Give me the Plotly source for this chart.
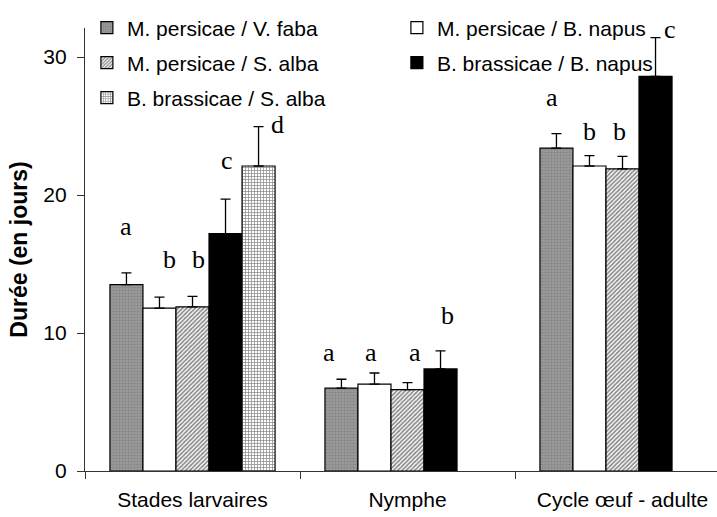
import plotly.graph_objects as go

# Development stages (x categories)
categories = ["Stades larvaires", "Nymphe", "Cycle œuf - adulte"]

# Aphid / host-plant combinations
series_names = [
    "M. persicae / V. faba",
    "M. persicae / B. napus",
    "M. persicae / S. alba",
    "B. brassicae / B. napus",
    "B. brassicae / S. alba",
]

# Mean duration (days) per stage for each combination (None = not measured)
means = [
    [13.5, 6.0, 23.4],
    [11.8, 6.3, 22.1],
    [11.9, 5.9, 21.9],
    [17.2, 7.4, 28.6],
    [22.1, None, None],
]

# Upper error (standard deviation, days)
errors = [
    [0.85, 0.65, 1.05],
    [0.8, 0.8, 0.75],
    [0.75, 0.5, 0.9],
    [2.5, 1.3, 2.8],
    [2.85, None, None],
]

# Statistical group letters: (category index, series index, letter, height)
letters = [
    (0, 0, "a", 17.7), (0, 1, "b", 15.3), (0, 2, "b", 15.3),
    (0, 3, "c", 22.5), (0, 4, "d", 25.1),
    (1, 0, "a", 8.6), (1, 1, "a", 8.6), (1, 2, "a", 8.6), (1, 3, "b", 11.3),
    (2, 0, "a", 27.1), (2, 1, "b", 24.6), (2, 2, "b", 24.6), (2, 3, "c", 32.0),
]
letter_shift = [
    [0, 10, 6, 1, 19],
    [-12, -3, 7, 7, 0],
    [-4, 0, -3, 14, 0],
]

# Bar fill styles
styles = [
    dict(color="#a0a0a0", pattern=dict(shape=".", fgcolor="#6e6e6e", size=3, solidity=0.5)),
    dict(color="white"),
    dict(color="white", pattern=dict(shape="/", fgcolor="#111111", size=3, solidity=0.55)),
    dict(color="black"),
    dict(color="white", pattern=dict(shape="+", fgcolor="#222222", size=3, solidity=0.45)),
]
legend_ids = ["legend", "legend", "legend2", "legend2", "legend3"]

FONT = "Liberation Sans"
x_pos = list(range(len(categories)))
fig = go.Figure()
for i, name in enumerate(series_names):
    fig.add_trace(go.Bar(
        name=name,
        x=x_pos,
        y=means[i],
        error_y=dict(type="data", array=errors[i], symmetric=False,
                     arrayminus=[0] * 3, color="black", thickness=1.3, width=5),
        marker=dict(line=dict(color="black", width=1.2), **styles[i]),
        legend=legend_ids[i],
    ))

bargap = 0.232
slot = (1 - bargap) / len(series_names)
for cat, ser, txt, h in letters:
    fig.add_annotation(
        x=cat + (ser - 2) * slot, y=h, text=txt, showarrow=False,
        xshift=letter_shift[cat][ser],
        font=dict(family="Liberation Serif", size=26, color="black"),
    )

legend_common = dict(
    orientation="h", x=0.003, xanchor="left", yanchor="middle",
    entrywidth=265, entrywidthmode="pixels",
    font=dict(family=FONT, size=21, color="black"),
    bgcolor="rgba(0,0,0,0)", itemclick=False, tracegroupgap=0,
)

fig.update_layout(
    width=717, height=517,
    margin=dict(l=85, r=0, t=28, b=46),
    plot_bgcolor="white", paper_bgcolor="white",
    barmode="group", bargap=bargap, bargroupgap=0,
    showlegend=True,
    legend=dict(y=1.0, **legend_common),
    legend2=dict(y=0.921, **legend_common),
    legend3=dict(y=0.842, **legend_common),
    xaxis=dict(
        range=[-0.5, -0.5 + 632 / 215], tickvals=x_pos, ticktext=categories,
        ticks="", showline=True, linecolor="#333333", linewidth=1.2,
        tickfont=dict(family=FONT, size=21, color="black"),
        ticklabelstandoff=10,
        showgrid=False, zeroline=False,
        minor=dict(tickvals=[-0.5, 0.5, 1.5], ticks="outside", ticklen=7,
                   tickcolor="#333333", tickwidth=1.2, showgrid=False),
    ),
    yaxis=dict(
        range=[0, 443 / 13.8], tickvals=[0, 10, 20, 30],
        ticks="outside", ticklen=7, tickcolor="#333333", tickwidth=1.2,
        ticklabelstandoff=6,
        showline=True, linecolor="#333333", linewidth=1.2,
        showgrid=False, zeroline=False,
        tickfont=dict(family=FONT, size=21, color="black"),
        title=dict(text="<b>Durée (en jours)</b>", standoff=9,
                   font=dict(family=FONT, size=23, color="black")),
    ),
)

fig.write_html("out.html")
